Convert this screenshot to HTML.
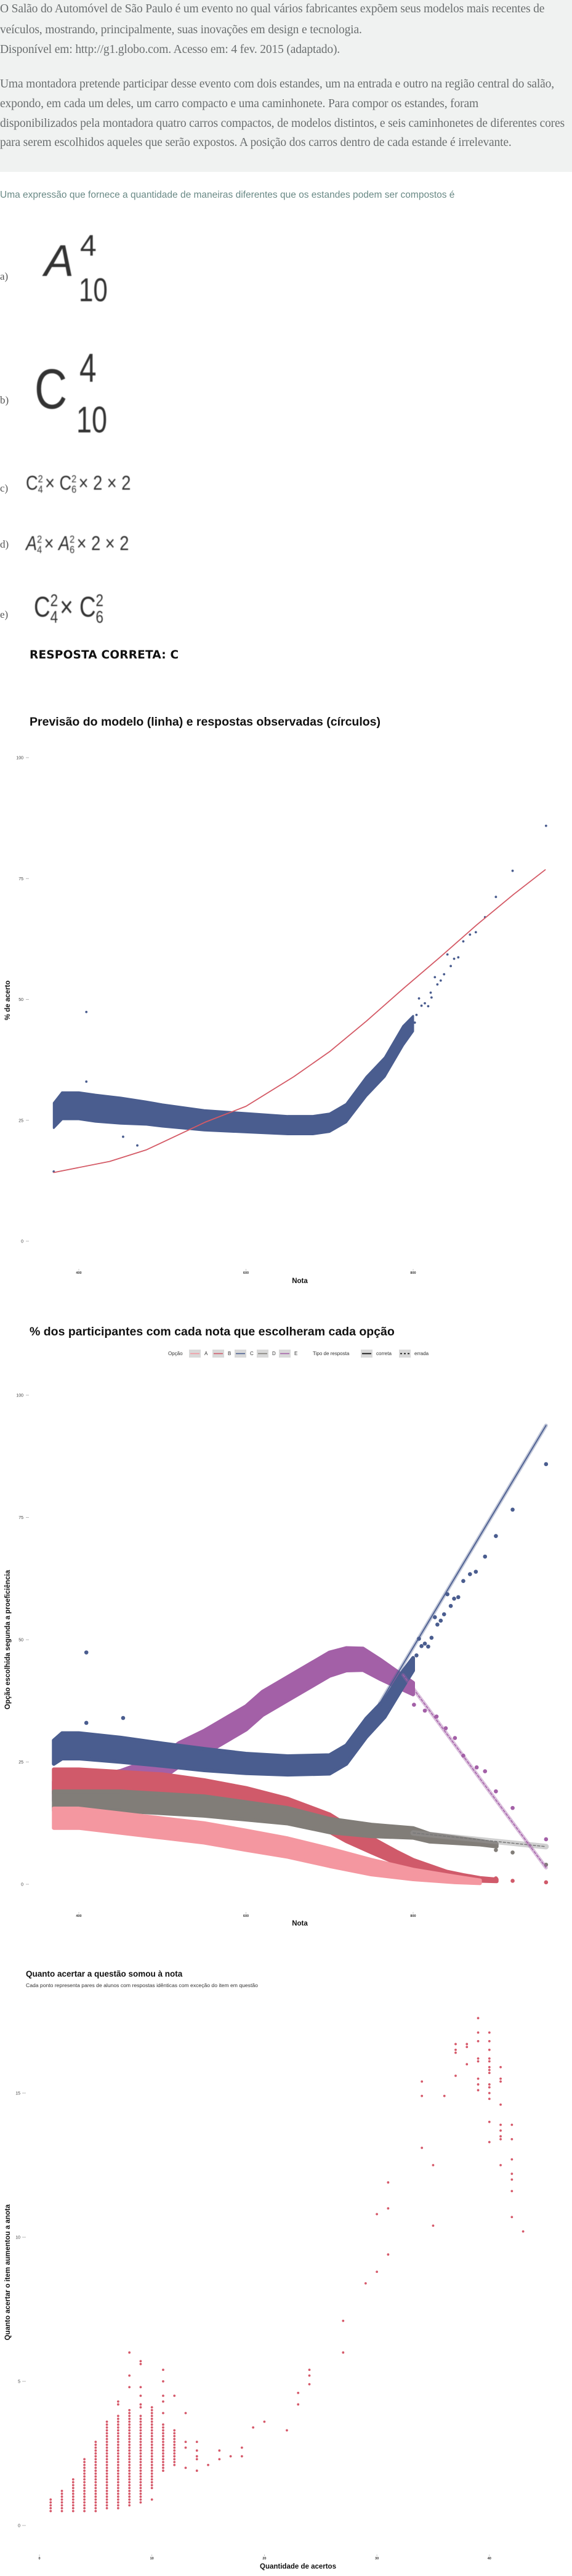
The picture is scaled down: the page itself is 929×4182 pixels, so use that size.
<!DOCTYPE html>
<html><head><meta charset="utf-8">
<style>
body{margin:0;width:929px;height:4182px;position:relative;background:#fff;overflow:hidden;font-family:"Liberation Sans",sans-serif}
.abs{position:absolute;white-space:nowrap}
.intro{position:absolute;left:0;top:0;width:929px;height:279px;background:#f0f2f1}
.ser{font-family:"Liberation Serif",serif;font-size:19.5px;color:#6b6f70;letter-spacing:-0.15px}
.lab{font-family:"Liberation Serif",serif;font-size:17px;color:#555}
.f{font-family:"Liberation Sans",sans-serif;color:#333;filter:blur(0.6px)}
.ss{display:inline-block;vertical-align:middle;line-height:0.95;text-align:left;margin-right:4px}
.ss span{display:block}
svg text{font-family:"Liberation Sans",sans-serif}
</style></head><body>
<div class="intro">
<div class="abs ser" style="left:0;top:4px">O Salão do Automóvel de São Paulo é um evento no qual vários fabricantes expõem seus modelos mais recentes de</div>
<div class="abs ser" style="left:0;top:38px">veículos, mostrando, principalmente, suas inovações em design e tecnologia.</div>
<div class="abs ser" style="left:0;top:70px">Disponível em: http://g1.globo.com. Acesso em: 4 fev. 2015 (adaptado).</div>
<div class="abs ser" style="left:0;top:126px">Uma montadora pretende participar desse evento com dois estandes, um na entrada e outro na região central do salão,</div>
<div class="abs ser" style="left:0;top:158px">expondo, em cada um deles, um carro compacto e uma caminhonete. Para compor os estandes, foram</div>
<div class="abs ser" style="left:0;top:190px">disponibilizados pela montadora quatro carros compactos, de modelos distintos, e seis caminhonetes de diferentes cores</div>
<div class="abs ser" style="left:0;top:221px">para serem escolhidos aqueles que serão expostos. A posição dos carros dentro de cada estande é irrelevante.</div>
</div>
<div class="abs" style="left:0;top:308px;font-size:15.5px;color:#6a8a86">Uma expressão que fornece a quantidade de maneiras diferentes que os estandes podem ser compostos é</div>

<div class="abs lab" style="left:0;top:439px">a)</div>
<div class="abs f" style="left:72px;top:388px;font-size:72px;font-style:italic;line-height:1">A</div>
<div class="abs f" style="left:130px;top:376px;font-size:48px;line-height:1">4</div>
<div class="abs f" style="left:128px;top:444px;font-size:54px;line-height:1;transform:scaleX(0.78);transform-origin:left">10</div>

<div class="abs lab" style="left:0;top:640px">b)</div>
<div class="abs f" style="left:56px;top:586px;font-size:92px;line-height:1;transform:scaleX(0.8);transform-origin:left">C</div>
<div class="abs f" style="left:129px;top:564px;font-size:66px;line-height:1;transform:scaleX(0.75);transform-origin:left">4</div>
<div class="abs f" style="left:124px;top:652px;font-size:60px;line-height:1;transform:scaleX(0.75);transform-origin:left">10</div>

<div class="abs lab" style="left:0;top:783px">c)</div>
<div class="abs f" style="left:42px;top:762px;font-size:32px;line-height:44px;transform:scaleX(0.85);transform-origin:left">C<span class="ss" style="font-size:17px"><span>2</span><span>4</span></span>× C<span class="ss" style="font-size:17px"><span>2</span><span>6</span></span>× 2 × 2</div>

<div class="abs lab" style="left:0;top:874px">d)</div>
<div class="abs f" style="left:42px;top:860px;font-size:32px;line-height:44px;transform:scaleX(0.85);transform-origin:left"><i>A</i><span class="ss" style="font-size:17px"><span>2</span><span>4</span></span>× <i>A</i><span class="ss" style="font-size:17px"><span>2</span><span>6</span></span>× 2 × 2</div>

<div class="abs lab" style="left:0;top:988px">e)</div>
<div class="abs f" style="left:55px;top:950px;font-size:46px;line-height:70px;transform:scaleX(0.8);transform-origin:left">C<span class="ss" style="font-size:28px"><span>2</span><span>4</span></span>× C<span class="ss" style="font-size:28px"><span>2</span><span>6</span></span></div>

<div class="abs" style="left:48px;top:1053px;font-size:18.5px;font-weight:bold;color:#111;font-family:'DejaVu Sans',sans-serif;letter-spacing:0.2px">RESPOSTA CORRETA: C</div>

<svg id="svg" width="929" height="4182" style="position:absolute;left:0;top:0">
<g id="c1"></g>
<g id="c2"></g>
<g id="c3"></g>
</svg>

<script>
// ---- Chart 1 data ----
const c1BandNota = [370,380,400,420,450,480,500,550,600,650,680,700,720,744,766,788,800];
const c1BandCenter = [26,28,28,27.5,27,26.5,26,25,24.5,24,24,24.5,26.5,32,36,42.5,45];
const c1BandSpread = [2.6,2.8,2.8,2.8,2.7,2.4,2.3,2.1,2,1.9,1.9,1.9,1.9,2,2,2,1.6];
const c1PtNota = [959,919,899,886,875,868,860,854,849,845,841,837,833,829,826,822,821,818,814,810,807,804,802,409,409,470,370,453];
const c1PtVal = [85.9,76.6,71.2,67,63.9,63.4,62,58.7,58.4,56.9,59.3,55.2,53.9,53.1,54.6,50.4,51.4,48.6,49.2,48.7,50.2,46.8,45.2,47.4,33,19.8,14.4,21.6];
const c1LineNota = [370,437,481,551,600,657,700,744,788,832,876,920,958];
const c1LineVal = [14.2,16.5,18.9,24.6,27.9,34,39.2,45.5,52.2,58.7,65.4,71.7,76.8];
const c1YTicks = [0,25,50,75,100];
const xTicks = [400,600,800];

// ---- Chart 2 data ----
const c2Series = ['A','B','C','D','E'];
const c2Colors = {A:'#f497a0',B:'#d05a6a',C:'#4a5d8f',D:'#817d78',E:'#a360a7'};
const c2NotaA = [370,400,450,500,550,600,650,700,750,800,850,880];
const c2ValA = [13.5,13.5,12.5,11.5,10.5,9,7.5,5.5,3.5,2,1,0.5];
const c2SprA = [2,2,2,2,2,2,1.9,1.8,1.5,1,0.6,0.3];
const c2NotaB = [370,400,450,500,550,600,650,700,720,750,780,800,820,840,860,880,900];
const c2ValB = [21,21,20.5,20,19,17.5,15.5,12.5,10.5,8,5.5,4,3,2,1.5,1,0.8];
const c2SprB = [2.5,2.5,2.5,2.5,2.3,2.2,2,1.8,1.7,1.5,1.2,1,0.8,0.6,0.4,0.3,0.2];
const c2NotaD = [370,400,450,500,550,600,650,700,750,800,820,850,880,900];
const c2ValD = [17,17,17,16.5,16,15,14,12,11,10.5,9.5,9,8.5,8];
const c2SprD = [2,2,2,2,2,1.8,1.6,1.4,1.2,1,0.8,0.6,0.4,0.3];
const c2NotaC = [370,380,400,450,500,550,600,650,700,720,744,766,788,800];
const c2ValC = [27,28.3,28.3,27.5,26.5,25.5,24.7,24.3,24.5,26.5,32,36,42,45];
const c2SprC = [2.4,2.6,2.6,2.5,2.3,2.2,2,1.9,1.9,1.9,1.9,1.8,1.6,1.3];
const c2NotaE = [370,400,450,500,520,550,580,600,620,650,680,700,720,740,760,780,800];
const c2ValE = [19,19.5,21,24,26.5,29,32,34,37,40,43,45,46,46,44,42,40];
const c2SprE = [2,2,2.2,2.3,2.4,2.4,2.4,2.4,2.4,2.4,2.4,2.4,2.3,2.2,2,1.6,1.2];
const c2PtC_Nota = [959,919,899,886,875,868,860,854,849,845,841,837,833,829,826,822,818,814,810,807,804,409,409,453];
const c2PtC_Val = [85.9,76.6,71.2,67,63.9,63.4,62,58.7,58.4,56.9,59.3,55.2,53.9,53.1,54.6,50.4,48.6,49.2,48.7,50.2,46.8,47.4,33,34];
const c2PtE_Nota = [801,814,828,839,850,860,876,886,899,919,959];
const c2PtE_Val = [36.7,35.5,34.3,31.9,29.9,26.3,23.9,23.1,19,15.6,9.2];
const c2PtB_Nota = [919,959,899];
const c2PtB_Val = [0.7,0.4,1.2];
const c2PtD_Nota = [919,959,899];
const c2PtD_Val = [6.5,4,7];
const c2LineC_Nota = [760,959];
const c2LineC_Val = [37,93.8];
const c2LineE_Nota = [788,959];
const c2LineE_Val = [42.8,3.4];
const c2LineD_Nota = [800,959];
const c2LineD_Val = [10.5,7.7];

// ---- Chart 3 data ----
const c3ColX = [1,2,3,4,5,6,7,8,9,10,11,12];
const c3ColMin = [0.5,0.5,0.5,0.5,0.5,0.6,0.6,0.7,0.8,1.3,1.9,2.1];
const c3ColMax = [0.9,1.2,1.6,2.3,2.9,3.6,3.8,4.0,3.8,4.1,3.5,3.3];
const c3PtX = [7,7,8,8,8,9,9,9,9,9,9,10,11,11,11,11,11,12,13,13,13,13,14,14,14,14,14,15,16,16,17,18,18,19,20,22,23,23,24,24,24,27,27,29,30,30,31,31,31,34,34,34,35,35,36,37,37,37,37,38,38,38,39,39,39,39,39,39,39,39,40,40,40,40,40,40,40,40,40,40,40,40,40,40,41,41,41,41,41,41,41,41,41,42,42,42,42,42,42,42,43];
const c3PtY = [4.2,4.3,4.8,5.2,6.0,4.1,4.2,4.5,4.8,5.6,5.7,0.9,3.9,4.3,4.5,5.0,5.4,4.5,2.0,2.7,2.9,3.9,1.9,2.3,2.4,2.6,2.9,2.1,2.3,2.6,2.4,2.4,2.7,3.4,3.6,3.3,4.2,4.6,4.9,5.2,5.4,6.0,7.1,8.4,8.8,10.8,9.4,11.0,11.9,13.1,14.9,15.4,10.4,12.5,14.9,15.6,16.4,16.5,16.7,16.0,16.6,16.7,15.1,15.3,15.5,16.1,16.2,16.8,17.1,17.6,13.3,14.0,14.8,15.0,15.2,15.3,15.7,15.8,15.9,16.1,16.2,16.5,16.8,17.1,12.5,13.4,13.5,13.7,13.9,14.6,15.4,15.5,15.9,10.7,11.6,12.0,12.2,12.7,13.4,13.9,10.2];
const c3YTicks = [0,5,10,15];
const c3XTicks = [0,10,20,30,40];

const NS='http://www.w3.org/2000/svg';
function mk(parent,tag,attrs,txt){const e=document.createElementNS(NS,tag);for(const k in attrs)e.setAttribute(k,attrs[k]);if(txt!==undefined)e.textContent=txt;parent.appendChild(e);return e;}
const X = v => 128 + (v-400)*1.3575;
const Y1 = v => 2015 - v*7.85;
const Y2 = v => 3059 - v*7.94;
const X3 = v => 64 + v*18.27;
const Y3 = v => 4100 - v*46.8;

function band(g,nota,center,spread,fx,fy,col,sw,name){
  const up=nota.map((n,i)=>fx(n)+','+fy(center[i]+spread[i]));
  const dn=nota.map((n,i)=>fx(n)+','+fy(center[i]-spread[i])).reverse();
  const p=mk(g,'polygon',{points:up.concat(dn).join(' '),fill:col,stroke:col,'stroke-width':sw,'stroke-linejoin':'round'});
  
  
}
function yAxis(g,ticks,fy,lx,tx1,tx2,name){
  ticks.forEach(t=>{
    const tl=mk(g,'text',{x:lx,y:fy(t)+2.5,'text-anchor':'end','font-size':7,fill:'#444'},t);
    
    
    mk(g,'line',{x1:tx1,x2:tx2,y1:fy(t),y2:fy(t),stroke:'#aaa','stroke-width':0.8});
  });
}
function xAxis(g,ticks,fx,ly,name){
  ticks.forEach(t=>{
    mk(g,'line',{x1:fx(t),x2:fx(t),y1:ly-8,y2:ly-5,stroke:'#bbb','stroke-width':0.8});
    const tl=mk(g,'text',{x:fx(t),y:ly,'text-anchor':'middle','font-size':5.5,'font-weight':'bold',fill:'#333'},t);
    
    
  });
}
function title(g,x,y,size,txt,name,anchor){
  const t=mk(g,'text',{x:x,y:y,'font-size':size,'font-weight':'bold',fill:'#111','text-anchor':anchor||'start'},txt);
  
  
  return t;
}
function dots(g,xs,ys,fx,fy,r,col,name){
  xs.forEach((v,i)=>{
    const c=mk(g,'circle',{cx:fx(v),cy:fy(ys[i]),r:r,fill:col});
    
    
  });
}
function path(g,xs,ys,fx,fy,col,w,dash,name){
  const d='M'+xs.map((v,i)=>fx(v).toFixed(1)+','+fy(ys[i]).toFixed(1)).join(' L');
  const p=mk(g,'path',{d:d,fill:'none',stroke:col,'stroke-width':w,'stroke-linecap':'round','stroke-linejoin':'round'});
  if(dash)p.setAttribute('stroke-dasharray',dash);
  
  
}

// ---- Chart 1 ----
const g1=document.getElementById('c1');
title(g1,48,1178,19.5,'Previsão do modelo (linha) e respostas observadas (círculos)','chart1-title');
yAxis(g1,c1YTicks,Y1,38,42,47,'chart1-y');
xAxis(g1,xTicks,X,2068,'chart1-x');
title(g1,487,2083,11.5,'Nota','chart1-x-title','middle');
const yt1=title(g1,0,0,11.5,'% de acerto','chart1-y-title','middle');
yt1.setAttribute('transform','translate(16,1624) rotate(-90)');
band(g1,c1BandNota,c1BandCenter,c1BandSpread,X,Y1,'#4a5d8f',3,'observed-band');
dots(g1,c1PtNota,c1PtVal,X,Y1,1.9,'#4a5d8f','observed-point');
path(g1,c1LineNota,c1LineVal,X,Y1,'#d45a66',1.8,null,'model-line');

// ---- Chart 2 ----
const g2=document.getElementById('c2');
title(g2,48,2168,19.5,'% dos participantes com cada nota que escolheram cada opção','chart2-title');
const lg=mk(g2,'g',{});


mk(lg,'text',{x:273,y:2200,'font-size':8,fill:'#333'},'Opção');
const lx=[307,345,381,417,453];
c2Series.forEach((s,i)=>{
  const b=mk(lg,'rect',{x:lx[i],y:2191,width:19,height:13,fill:'#d9d9d9'});
  
  
  mk(lg,'line',{x1:lx[i]+2,x2:lx[i]+17,y1:2197.5,y2:2197.5,stroke:c2Colors[s],'stroke-width':1.6});
  mk(lg,'text',{x:lx[i]+25,y:2200,'font-size':8,fill:'#333'},s);
});
mk(lg,'text',{x:508,y:2200,'font-size':8,fill:'#333'},'Tipo de resposta');
const kb1=mk(lg,'rect',{x:586,y:2191,width:19,height:13,fill:'#d9d9d9'});


mk(lg,'line',{x1:588,x2:603,y1:2197.5,y2:2197.5,stroke:'#111','stroke-width':1.8});
mk(lg,'text',{x:611,y:2200,'font-size':8,fill:'#333'},'correta');
const kb2=mk(lg,'rect',{x:648,y:2191,width:19,height:13,fill:'#d9d9d9'});


mk(lg,'line',{x1:650,x2:665,y1:2197.5,y2:2197.5,stroke:'#111','stroke-width':1.8,'stroke-dasharray':'3,3'});
mk(lg,'text',{x:673,y:2200,'font-size':8,fill:'#333'},'errada');

yAxis(g2,c1YTicks,Y2,38,42,47,'chart2-y');
xAxis(g2,xTicks,X,3112,'chart2-x');
title(g2,487,3126,11.5,'Nota','chart2-x-title','middle');
const yt2=title(g2,0,0,11.5,'Opção escolhida segunda a proeficiência','chart2-y-title','middle');
yt2.setAttribute('transform','translate(16,2662) rotate(-90)');
band(g2,c2NotaE,c2ValE,c2SprE,X,Y2,c2Colors.E,6,'band-E');
band(g2,c2NotaC,c2ValC,c2SprC,X,Y2,c2Colors.C,6,'band-C');
band(g2,c2NotaB,c2ValB,c2SprB,X,Y2,c2Colors.B,6,'band-B');
band(g2,c2NotaD,c2ValD,c2SprD,X,Y2,c2Colors.D,6,'band-D');
band(g2,c2NotaA,c2ValA,c2SprA,X,Y2,c2Colors.A,6,'band-A');
dots(g2,c2PtC_Nota,c2PtC_Val,X,Y2,3.3,c2Colors.C,'point-C');
dots(g2,c2PtE_Nota,c2PtE_Val,X,Y2,3.3,c2Colors.E,'point-E');
dots(g2,c2PtB_Nota,c2PtB_Val,X,Y2,3.3,c2Colors.B,'point-B');
dots(g2,c2PtD_Nota,c2PtD_Val,X,Y2,3.3,c2Colors.D,'point-D');
path(g2,c2LineD_Nota,c2LineD_Val,X,Y2,'rgba(150,150,150,0.45)',9,null,'ci-D');
path(g2,c2LineD_Nota,c2LineD_Val,X,Y2,'#777',1.5,'4,3','fit-line-D');
path(g2,c2LineE_Nota,c2LineE_Val,X,Y2,'rgba(163,96,167,0.4)',6,null,'ci-E');
path(g2,c2LineE_Nota,c2LineE_Val,X,Y2,c2Colors.E,1.5,'4,3','fit-line-E');
path(g2,c2LineC_Nota,c2LineC_Val,X,Y2,'rgba(74,93,143,0.35)',6,null,'ci-C');
path(g2,c2LineC_Nota,c2LineC_Val,X,Y2,c2Colors.C,1.8,null,'fit-line-C');

// ---- Chart 3 ----
const g3=document.getElementById('c3');
title(g3,42,3209,13.5,'Quanto acertar a questão somou à nota','chart3-title');
const st=mk(g3,'text',{x:42,y:3226,'font-size':8.6,fill:'#333'},'Cada ponto representa pares de alunos com respostas idênticas com exceção do item em questão');


yAxis(g3,c3YTicks,Y3,33,36,42,'chart3-y');
xAxis(g3,c3XTicks,X3,4155,'chart3-x');
title(g3,484,4170,11.5,'Quantidade de acertos','chart3-x-title','middle');
const yt3=title(g3,0,0,11.5,'Quanto acertar o item aumentou a anota','chart3-y-title','middle');
yt3.setAttribute('transform','translate(16,3689) rotate(-90)');
c3ColX.forEach((x,i)=>{
  for(let v=c3ColMin[i]; v<=c3ColMax[i]+1e-6; v+=0.1){
    const c=mk(g3,'circle',{cx:X3(x),cy:Y3(v),r:1.9,fill:'#d65a6b'});
    
    
  }
});
dots(g3,c3PtX,c3PtY,X3,Y3,1.9,'#d65a6b','pair-point');
</script>
</body></html>
